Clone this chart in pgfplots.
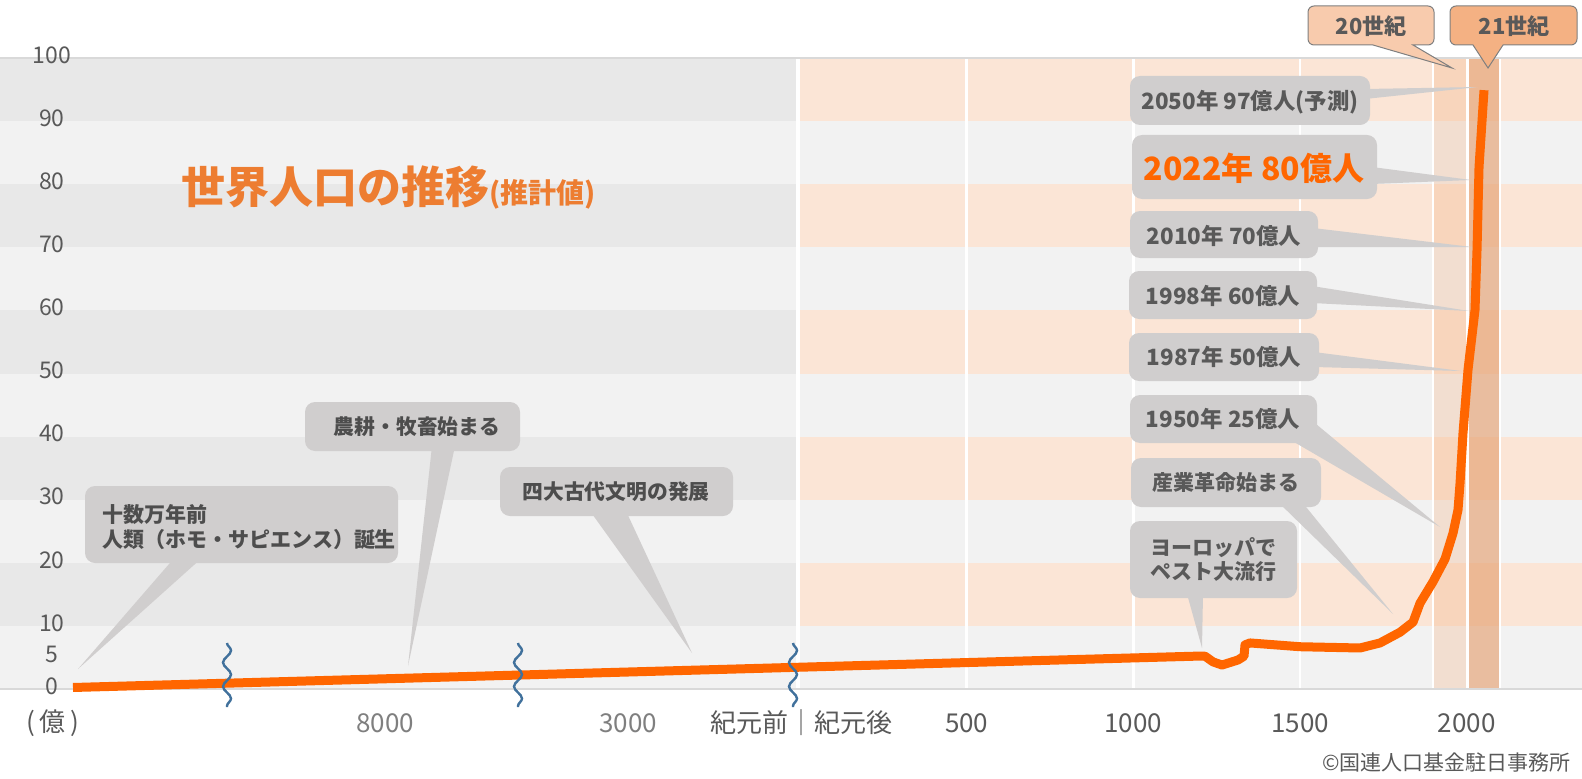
\documentclass[border=0pt]{standalone}
\usepackage{fontspec}
\setmainfont{Noto Sans CJK JP}
\usepackage{pgfplots}
\pgfplotsset{compat=1.18}
\usetikzlibrary{decorations.pathmorphing}
\definecolor{lgray}{HTML}{F2F2F2}
\definecolor{dgray}{HTML}{E8E8E8}
\definecolor{peach}{HTML}{FBE5D6}
\definecolor{boxg}{HTML}{D0CECE}
\definecolor{txt}{HTML}{595959}
\definecolor{ltxt}{HTML}{7F7F7F}
\definecolor{dtxt}{HTML}{4D4D4D}
\definecolor{popo}{HTML}{FF6600}
\definecolor{ttl}{HTML}{ED7D31}
\definecolor{c20}{HTML}{F8CBAD}
\definecolor{c21}{HTML}{F4B183}
\definecolor{col20}{HTML}{F4B183}
\definecolor{col21}{HTML}{E39A68}
\definecolor{sq}{HTML}{41719C}
\definecolor{axl}{HTML}{D9D9D9}
\newcommand{\fs}[1]{\fontsize{#1}{#1}\selectfont}
\pgfplotstableread{
year value
-2181 0.24
1185 5.2
1215 5.2
1239 4.3
1266 3.8
1314 4.6
1332 5.2
1335 7.0
1350 7.3
1500 6.7
1680 6.5
1740 7.3
1800 9.0
1839 10.6
1860 13.6
1899 17.0
1935 20.6
1959 24.7
1974 28.4
1980 32.6
1989 40.6
2004 50.6
2025 60.1
2031 69.6
2037 82.7
2052 94.9
}\popdata
\begin{document}%
\begin{tikzpicture}%
\begin{axis}[
  set layers,
  at={(0pt,0pt)}, anchor=south west,
  scale only axis, width=791pt, height=315.5pt,
  xmin=-2400, xmax=2346, ymin=0, ymax=100,
  clip=false,
  axis line style={draw=none},
  major tick length=0pt,
  xtick={-2241,-1245,-516,3,500,1000,1500,2000},
  xticklabels={{(\,億\,)},{\textcolor{ltxt}{8000}},{\textcolor{ltxt}{3000}},{紀元前｜紀元後},500,1000,1500,2000},
  xticklabel style={anchor=center, yshift=-17pt, font=\fs{13}, text=txt},
  ytick={0,5,10,20,30,40,50,60,70,80,90,100},
  yticklabels={0,5,10,20,30,40,50,60,70,80,90,100},
  yticklabel style={anchor=center, xshift=26pt, yshift=1.5pt, font=\fs{11.5}, text=txt},
]
\begin{pgfonlayer}{axis background}
% background bands, left (BC)
\fill[lgray] (-2400,0) rectangle (-6,100);
\fill[dgray] (-2400,10) rectangle (-6,20);
\fill[dgray] (-2400,30) rectangle (-6,40);
\fill[dgray] (-2400,50) rectangle (-6,60);
\fill[dgray] (-2400,70) rectangle (-6,80);
\fill[dgray] (-2400,90) rectangle (-6,100);
% right (AD)
\fill[lgray] (-6,0) rectangle (2346,100);
\fill[peach] (-6,10) rectangle (2346,20);
\fill[peach] (-6,30) rectangle (2346,40);
\fill[peach] (-6,50) rectangle (2346,60);
\fill[peach] (-6,70) rectangle (2346,80);
\fill[peach] (-6,90) rectangle (2346,100);
% century columns
\fill[col20, opacity=0.3] (1900,0) rectangle (2000,100);
\fill[col21, opacity=0.6] (2000,0) rectangle (2100,100);
% white grid lines
\draw[white, line width=2pt] (-6,0) -- (-6,100);
\draw[white, line width=1.3pt] (500,0) -- (500,100);
\draw[white, line width=1.3pt] (1000,0) -- (1000,100);
\draw[white, line width=1.3pt] (1500,0) -- (1500,100);
\draw[white, line width=1pt] (1900,0) -- (1900,100);
\draw[white, line width=1.8pt] (2003,0) -- (2003,100);
\draw[white, line width=1pt] (2100,0) -- (2100,100);
% frame lines
\draw[axl, line width=1pt] (-2400,100) -- (2346,100);
\draw[axl, line width=1.2pt] (-2400,0) -- (2346,0);
\end{pgfonlayer}
% population
\addplot[popo, line width=4.5pt, line join=round, line cap=butt] table[x=year, y=value] {\popdata};
\end{axis}
% annotations in image-pixel coordinates
\begin{scope}[shift={(0pt,344.5pt)}, x=0.5pt, y=-0.5pt]
% title
\node[anchor=base west, inner sep=0pt, text=ttl, font=\bfseries\fs{22}] at (181,203) {世界人口の推移{\fs{14}(推計値)}};
% left boxes
\fill[boxg] (176,556) -- (204,556) -- (78,669) -- cycle;
\fill[boxg, rounded corners=5pt] (85,486) rectangle (398,563);
\node[anchor=west, inner sep=0pt, text=dtxt, font=\bfseries\fs{10.5}] at (102,515) {十数万年前};
\node[anchor=west, inner sep=0pt, text=dtxt, font=\bfseries\fs{10.5}] at (102,540) {人類（ホモ・サピエンス）誕生};
\fill[boxg] (432,446) -- (455,446) -- (408,666) -- cycle;
\fill[boxg, rounded corners=5pt] (305,402) rectangle (520,451);
\node[inner sep=0pt, text=dtxt, font=\bfseries\fs{10.4}] at (417,427) {農耕・牧畜始まる};
\fill[boxg] (590,511) -- (626,511) -- (692,653) -- cycle;
\fill[boxg, rounded corners=5pt] (500,467) rectangle (733,516);
\node[inner sep=0pt, text=dtxt, font=\bfseries\fs{10.4}] at (616,492) {四大古代文明の発展};
% right boxes
\fill[boxg] (1365,89) -- (1365,99) -- (1478,87) -- cycle;
\fill[boxg, rounded corners=5pt] (1130,76) rectangle (1370,125);
\node[inner sep=0pt, text=txt, font=\bfseries\fs{11.2}] at (1250,102) {2050年 97億人(予測)};
\fill[boxg] (1372,167) -- (1372,184) -- (1471,180) -- cycle;
\fill[boxg, rounded corners=5pt] (1132,135) rectangle (1377,199);
\node[inner sep=0pt, text=popo, font=\bfseries\fs{16}] at (1254,168) {2022年 80億人};
\fill[boxg] (1313,228) -- (1313,247) -- (1472,247) -- cycle;
\fill[boxg, rounded corners=5pt] (1130,211) rectangle (1318,258);
\node[inner sep=0pt, text=txt, font=\bfseries\fs{11.2}] at (1224,236) {2010年 70億人};
\fill[boxg] (1312,286) -- (1312,303) -- (1469,311) -- cycle;
\fill[boxg, rounded corners=5pt] (1129,271) rectangle (1317,319);
\node[inner sep=0pt, text=txt, font=\bfseries\fs{11.2}] at (1223,296) {1998年 60億人};
\fill[boxg] (1314,352) -- (1314,367) -- (1461,371) -- cycle;
\fill[boxg, rounded corners=5pt] (1129,333) rectangle (1319,381);
\node[inner sep=0pt, text=txt, font=\bfseries\fs{11.2}] at (1224,357) {1987年 50億人};
\fill[boxg] (1316,424) -- (1294,442) -- (1440,527) -- cycle;
\fill[boxg, rounded corners=5pt] (1130,395) rectangle (1317,443);
\node[inner sep=0pt, text=txt, font=\bfseries\fs{11.2}] at (1223,419) {1950年 25億人};
\fill[boxg] (1278,502) -- (1302,502) -- (1393,614) -- cycle;
\fill[boxg, rounded corners=5pt] (1131,458) rectangle (1321,507);
\node[inner sep=0pt, text=txt, font=\bfseries\fs{10.5}] at (1226,483) {産業革命始まる};
\fill[boxg] (1187,594) -- (1203,594) -- (1202,648) -- cycle;
\fill[boxg, rounded corners=5pt] (1130,521) rectangle (1297,598);
\node[anchor=west, inner sep=0pt, text=txt, font=\bfseries\fs{10.5}] at (1150,548) {ヨーロッパで};
\node[anchor=west, inner sep=0pt, text=txt, font=\bfseries\fs{10.5}] at (1150,572) {ペスト大流行};
% century callouts
\filldraw[fill=c20, draw=ltxt, line width=0.5pt] (1373,45) [rounded corners=3pt] -- (1308,45) -- (1308,6) -- (1434,6) -- (1434,45) [sharp corners] -- (1413,45) -- (1452,68) -- cycle;
\node[inner sep=0pt, text=txt, font=\bfseries\fs{11}] at (1371,26) {20世紀};
\filldraw[fill=c21, draw=ltxt, line width=0.5pt] (1473,45) [rounded corners=3pt] -- (1450,45) -- (1450,6) -- (1577,6) -- (1577,45) [sharp corners] -- (1503,45) -- (1488,68) -- cycle;
\node[inner sep=0pt, text=txt, font=\bfseries\fs{11}] at (1514,26) {21世紀};
% axis break squiggles
\foreach \sx in {227,518,793}{
  \draw[sq, line width=1.2pt, decorate, decoration={snake, amplitude=2pt, segment length=12pt}] (\sx,643) -- (\sx,707);
}
% source
\node[anchor=east, inner sep=0pt, text=txt, font=\fs{10.5}] at (1571,762) {©国連人口基金駐日事務所};
\end{scope}
\pgfresetboundingbox
\useasboundingbox (0pt,-44.5pt) rectangle (791pt,344.5pt);
\end{tikzpicture}%
\end{document}
